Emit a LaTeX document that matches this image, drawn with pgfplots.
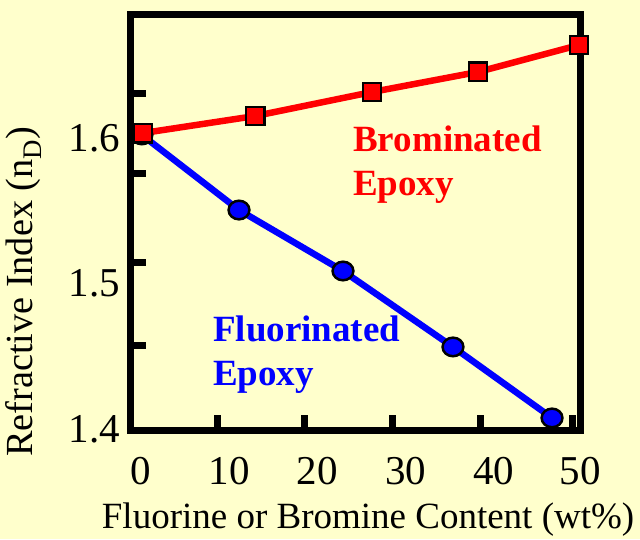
\documentclass[border=0pt]{standalone}
\usepackage{fontspec}
\setmainfont{Liberation Serif}
\usepackage{pgfplots}
\pgfplotsset{compat=1.18}
\definecolor{bg}{HTML}{FFFFCC}
\definecolor{myred}{HTML}{FF0000}
\definecolor{myblue}{HTML}{0000FF}
\newcommand{\bigfont}{\fontsize{37}{44}\selectfont}
\newcommand{\ylabfont}{\fontsize{38.3}{46}\selectfont}
\newcommand{\tickfont}{\fontsize{41}{48}\selectfont}
\begin{document}
\begin{tikzpicture}
\fill[bg] (-131pt,-109pt) rectangle (509pt,430pt);
\begin{axis}[
  at={(0pt,0pt)}, anchor=south west,
  scale only axis, width=449pt, height=415pt,
  xmin=-1.134, xmax=49.77, ymin=1.39931, ymax=1.68454,
  clip=false,
  /pgf/number format/assume math mode=true,
  axis line style={line width=7pt, black},
  tick pos=left,
  tick style={black, line width=7pt},
  major tick length=0pt,
  tick align=inside,
  xtick={0,10,20,30,40,49.77},
  xticklabels={0,10,20,30,40,50},
  ytick={1.4,1.5,1.6},
  yticklabels={1.4,1.5,1.6},
  extra x ticks={8.62,18.48,28.46,38.44,48.87},
  extra x tick labels={},
  extra x tick style={major tick length=15pt},
  extra y ticks={1.4577,1.5141,1.5759,1.6309},
  extra y tick labels={},
  extra y tick style={major tick length=15pt},
  xticklabel style={font=\tickfont, inner sep=0pt, anchor=north, yshift=-27pt},
  yticklabel style={font=\tickfont, inner sep=0pt, anchor=east, xshift=-11pt},
  xlabel={Fluorine or Bromine Content (wt\%)},
  ylabel={Refractive Index (n\textsubscript{D})},
  label style={inner sep=0pt},
  xlabel style={font=\bigfont, at={(rel axis cs:0.528,-0.2169)}, anchor=center},
  ylabel style={font=\ylabfont, at={(rel axis cs:-0.2383,0.333)}, anchor=center},
]
\addplot[myblue, line width=6.5pt, mark=*, mark size=9.3pt,
  mark options={draw=black, fill=myblue, line width=2.5pt, xscale=1.12}]
  coordinates {(0.1,1.6021)(11.11,1.5505)(22.90,1.5086)(35.37,1.4564)(46.60,1.4076)};
\addplot[myred, line width=6.5pt, mark=square*, mark size=9.2pt,
  mark options={draw=black, fill=myred, line width=2.5pt}]
  coordinates {(0.23,1.6034)(12.93,1.6151)(26.19,1.6316)(38.21,1.6454)(49.66,1.6639)};
\node[anchor=base west, inner sep=0pt, text=myred, font=\bigfont\bfseries] at (axis cs:24.04,1.5904) {Brominated};
\node[anchor=base west, inner sep=0pt, text=myred, font=\bigfont\bfseries] at (axis cs:24.04,1.5608) {Epoxy};
\node[anchor=base west, inner sep=0pt, text=myblue, font=\bigfont\bfseries] at (axis cs:8.16,1.4598) {Fluorinated};
\node[anchor=base west, inner sep=0pt, text=myblue, font=\bigfont\bfseries] at (axis cs:8.16,1.4302) {Epoxy};
\end{axis}
\pgfresetboundingbox
\path[use as bounding box] (-131pt,-109pt) rectangle (509pt,430pt);
\end{tikzpicture}
\end{document}
